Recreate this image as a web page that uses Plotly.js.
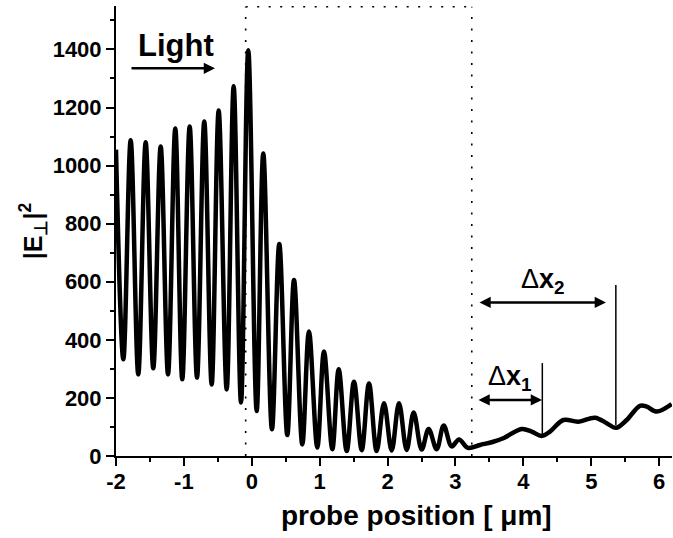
<!DOCTYPE html>
<html>
<head>
<meta charset="utf-8">
<script src="https://cdn.plot.ly/plotly-3.0.1.min.js"></script>
<style>html,body{margin:0;padding:0;background:#fff;}#chart{width:673px;height:538px;}</style>
</head>
<body>
<div id="chart"></div>
<script>
// probe position [um] and |E_perp|^2 (extrema and slow part)
const probePosition = [-2.0, -1.892, -1.784, -1.672, -1.563, -1.451, -1.342, -1.234, -1.127, -1.024,
  -0.915, -0.807, -0.700, -0.591, -0.488, -0.370, -0.267, -0.159, -0.052, 0.072,
  0.169, 0.297, 0.405, 0.523, 0.622, 0.744, 0.842, 0.965, 1.063, 1.186,
  1.280, 1.398, 1.505, 1.619, 1.726, 1.839, 1.947, 2.060, 2.168, 2.281,
  2.384, 2.502, 2.605, 2.723, 2.826, 2.944, 3.052, 3.184, 3.361, 3.557,
  3.704, 3.975, 4.122, 4.270, 4.392, 4.588, 4.809, 5.055, 5.227, 5.364,
  5.521, 5.717, 5.816, 5.963, 6.184];
const intensity = [1055, 333, 1087, 281, 1080, 302, 1066, 281, 1128, 264,
  1135, 270, 1152, 246, 1190, 229, 1273, 184, 1397, 155,
  1042, 92, 730, 72, 606, 40, 429, 29, 360, 23,
  299, 17, 256, 20, 250, 17, 182, 19, 182, 21,
  150, 22, 93, 23, 105, 33, 57, 28, 38, 49,
  61, 93, 84, 69, 84, 124, 118, 132, 113, 97,
  124, 173, 170, 153, 179];

const xTickVals = [-2, -1, 0, 1, 2, 3, 4, 5, 6];
const xTickText = ['-2', '-1', '0', '1', '2', '3', '4', '5', '6'];
const yTickVals = [0, 200, 400, 600, 800, 1000, 1200, 1400];
const yTickText = ['0', '200', '400', '600', '800', '1000', '1200', '1400'];

// dotted box (scan region) and delta-x markers
const boxLeft = -0.09, boxRight = 3.24, boxTop = 1547;
const dx1 = {from: 3.317, to: 4.274, level: 193, markX: 4.279, markTop: 320, markBottom: 69};
const dx2 = {from: 3.331, to: 5.216, level: 529, markX: 5.362, markTop: 589, markBottom: 107};

const FONT = "'Liberation Sans', Arial, sans-serif";

const trace = {
  x: probePosition, y: intensity, type: 'scatter', mode: 'lines',
  line: {color: '#000', width: 4.5, shape: 'spline', smoothing: 1},
  hoverinfo: 'skip'
};

const dotted = {color: '#000', width: 1.6, dash: '2px,9.5px'};
const shapes = [
  {type: 'line', xref: 'x', yref: 'y', x0: boxLeft, x1: boxLeft, y0: 0, y1: boxTop, line: dotted},
  {type: 'line', xref: 'x', yref: 'y', x0: boxRight, x1: boxRight, y0: 0, y1: boxTop, line: dotted},
  {type: 'line', xref: 'x', yref: 'y', x0: boxLeft, x1: boxRight, y0: boxTop, y1: boxTop, line: dotted},
  {type: 'line', xref: 'x', yref: 'y', x0: dx1.markX, x1: dx1.markX, y0: dx1.markBottom, y1: dx1.markTop, line: {color: '#000', width: 1.5}},
  {type: 'line', xref: 'x', yref: 'y', x0: dx2.markX, x1: dx2.markX, y0: dx2.markBottom, y1: dx2.markTop, line: {color: '#000', width: 1.5}}
];

const annotations = [
  {xref: 'x', yref: 'y', x: -1.116, y: 1412, text: 'Light', showarrow: false,
   font: {family: FONT, size: 31, color: '#000', weight: 'bold'}},
  {xref: 'x', yref: 'y', x: -0.542, y: 1335, ax: -85, ay: 0, text: '', showarrow: true,
   arrowhead: 2, arrowsize: 0.9, arrowwidth: 2.5, arrowcolor: '#000'},
  {xref: 'x', yref: 'y', x: dx2.to, y: dx2.level, axref: 'x', ayref: 'y', ax: dx2.from, ay: dx2.level,
   text: '', showarrow: true, arrowhead: 2, startarrowhead: 2, arrowside: 'end+start', arrowsize: 0.9, startarrowsize: 0.9, arrowwidth: 2.5, arrowcolor: '#000'},
  {xref: 'x', yref: 'y', x: dx1.to, y: dx1.level, axref: 'x', ayref: 'y', ax: dx1.from, ay: dx1.level,
   text: '', showarrow: true, arrowhead: 2, startarrowhead: 2, arrowside: 'end+start', arrowsize: 0.9, startarrowsize: 0.9, arrowwidth: 2.5, arrowcolor: '#000'},
  {xref: 'x', yref: 'y', x: 4.289, y: 603, text: 'Δ<b>x</b><sub><b>2</b></sub>', showarrow: false,
   font: {family: FONT, size: 27, color: '#000'}},
  {xref: 'x', yref: 'y', x: 3.80, y: 268, text: 'Δ<b>x</b><sub><b>1</b></sub>', showarrow: false,
   font: {family: FONT, size: 27, color: '#000'}},
  {xref: 'paper', yref: 'paper', x: 0.5396, y: -0.1333, xanchor: 'center', yanchor: 'middle',
   text: 'probe position [ μm]', showarrow: false,
   font: {family: FONT, size: 28, color: '#000', weight: 'bold'}}
];

const axisCommon = {
  showgrid: false, zeroline: false, showline: true, linecolor: '#000', linewidth: 2,
  ticks: 'outside', ticklen: 8, tickwidth: 2, tickcolor: '#000',
  tickfont: {family: FONT, size: 22, color: '#000', weight: 'bold'}
};

const layout = {
  width: 673, height: 538,
  margin: {l: 116, r: 1, t: 6, b: 82},
  paper_bgcolor: '#fff', plot_bgcolor: '#fff',
  showlegend: false,
  xaxis: Object.assign({}, axisCommon, {
    range: [-2, 6.189], tickmode: 'array', tickvals: xTickVals, ticktext: xTickText,
    ticklabelstandoff: -3,
    minor: {dtick: 0.5, ticks: 'outside', ticklen: 4, tickwidth: 2, tickcolor: '#000'}
  }),
  yaxis: Object.assign({}, axisCommon, {
    range: [0, 1549.6], tickmode: 'array', tickvals: yTickVals, ticktext: yTickText,
    ticklabelstandoff: 0,
    minor: {dtick: 100, ticks: 'outside', ticklen: 4, tickwidth: 2, tickcolor: '#000'},
    title: {text: '|E<sub>⊥</sub>|<sup>2</sup>', standoff: 3, font: {family: FONT, size: 25, color: '#000', weight: 'bold'}}
  }),
  shapes: shapes,
  annotations: annotations
};

Plotly.newPlot('chart', [trace], layout, {staticPlot: true, displayModeBar: false});
</script>
</body>
</html>
